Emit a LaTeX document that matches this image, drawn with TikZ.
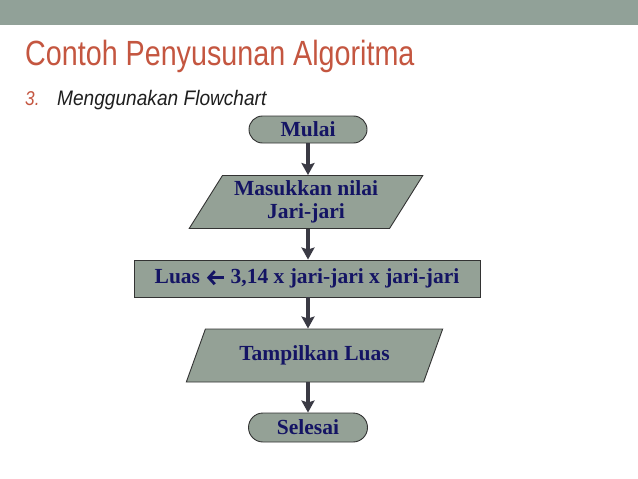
\documentclass[tikz,border=0pt]{standalone}
\usepackage{fontspec}
\usepackage{graphicx}
\setmainfont{Liberation Serif}
\newfontfamily\titlefont{Liberation Sans}
\usetikzlibrary{shapes.geometric,shapes.misc,arrows.meta}
\definecolor{barcol}{RGB}{145,161,152}
\definecolor{titlecol}{RGB}{196,86,64}
\definecolor{boxfill}{RGB}{148,161,150}
\definecolor{boxtext}{RGB}{20,20,100}
\definecolor{arrcol}{RGB}{58,58,68}
\definecolor{subcol}{RGB}{30,30,30}
\tikzset{
  box/.style={draw=black!80, line width=0.9pt, fill=boxfill, text=boxtext,
    font=\fontsize{21.5}{23}\selectfont\bfseries, align=center, inner sep=0pt},
  term/.style={box, rounded rectangle},
  io/.style={box, trapezium, trapezium stretches=true, trapezium left angle=56, trapezium right angle=124},
  proc/.style={box, rectangle},
  arr/.style={draw=arrcol, line width=3.2pt, -{Stealth[length=12pt,width=13pt,inset=2pt]}}
}
\newcommand{\larrow}{\tikz[baseline=-6pt,x=1pt,y=1pt]{\draw[boxtext, line width=2.8pt, {Straight Barb[length=6pt,width=13pt,line width=2.8pt]}-] (0,0) -- (17,0);}}
\begin{document}
\begin{tikzpicture}[x=1pt,y=-1pt]
\useasboundingbox (0,0) rectangle (638,479);
\fill[barcol] (0,0) rectangle (638,25);
\node[anchor=base west, inner sep=0pt, text=titlecol, font=\titlefont\fontsize{35}{40}\selectfont] (title) at (25,65) {\scalebox{0.82}[1]{Contoh Penyusunan Algoritma}};
\node[anchor=base west, inner sep=0pt, text=titlecol, font=\titlefont\itshape\fontsize{20}{24}\selectfont] (num) at (25,105) {\scalebox{0.86}[1]{3.}};
\node[anchor=base west, inner sep=0pt, text=subcol, font=\titlefont\itshape\fontsize{21}{24}\selectfont] (sub) at (57,105) {\scalebox{0.91}[1]{Menggunakan Flowchart}};

\node[term, minimum width=118pt, minimum height=27pt] (mulai) at (308,129.5) {Mulai};
\node[io, minimum width=234pt, minimum height=53pt] (in1) at (306,202) {Masukkan nilai\\Jari-jari};
\node[proc, minimum width=346pt, minimum height=37pt] (luas) at (307,278.5) {Luas \larrow{} 3,14 x jari-jari x jari-jari};
\node[io, minimum width=257pt, minimum height=53pt] (out1) at (314.5,355.5) {Tampilkan Luas};
\node[term, minimum width=119pt, minimum height=29pt] (selesai) at (308,427.5) {Selesai};

\draw[arr] (mulai.south) -- (in1.north -| mulai.south);
\draw[arr] (in1.south -| mulai.south) -- (luas.north -| mulai.south);
\draw[arr] (luas.south -| mulai.south) -- (out1.north -| mulai.south);
\draw[arr] (out1.south -| mulai.south) -- (selesai.north);
\end{tikzpicture}
\end{document}
